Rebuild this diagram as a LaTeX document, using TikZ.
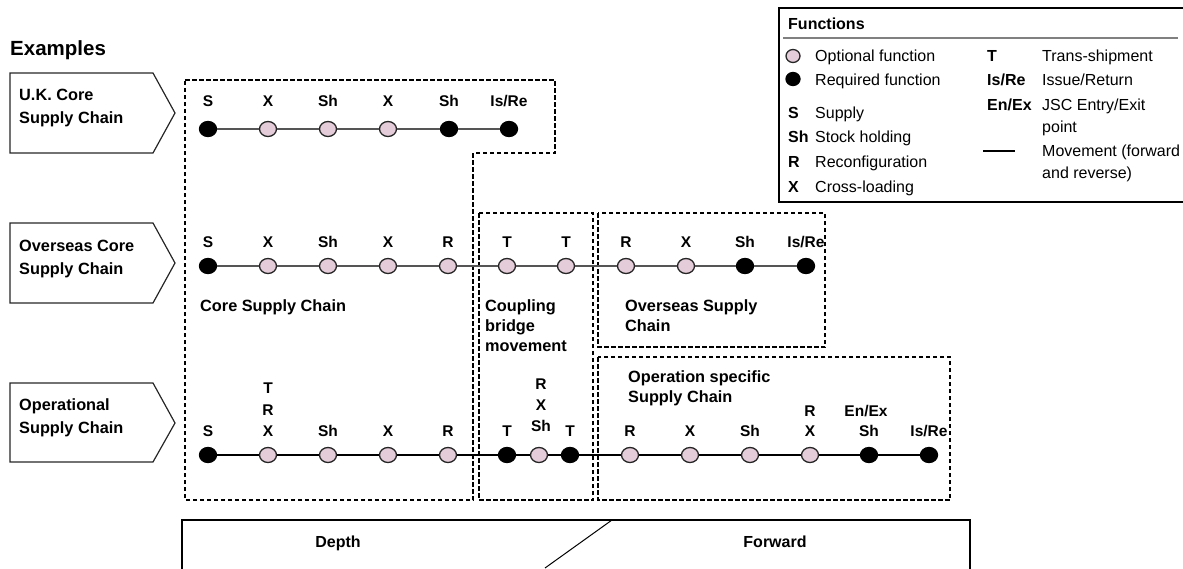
\documentclass[tikz,border=0pt]{standalone}
\usepackage{fontspec}
\setmainfont{Liberation Sans}
\usetikzlibrary{shapes.geometric}
\definecolor{optpink}{RGB}{228,204,216}
\definecolor{lgray}{RGB}{85,85,85}
\tikzset{
  opt/.style={ellipse,draw=black!85,line width=1.3pt,fill=optpink,minimum width=17pt,minimum height=15pt,inner sep=0pt},
  req/.style={ellipse,draw=black,line width=1.3pt,fill=black,minimum width=17pt,minimum height=15pt,inner sep=0pt},
  lbl/.style={font=\fontsize{15.5}{18}\selectfont\bfseries,anchor=base,inner sep=0pt},
  rtxt/.style={font=\fontsize{16.3}{20}\selectfont\bfseries,anchor=north west,inner sep=0pt,align=left},
  tabtxt/.style={font=\fontsize{16.3}{23}\selectfont\bfseries,anchor=north west,inner sep=0pt,align=left},
  ltxt/.style={font=\fontsize{16}{19}\selectfont,anchor=base west,inner sep=0pt},
  lkey/.style={font=\fontsize{16}{19}\selectfont\bfseries,anchor=base west,inner sep=0pt},
  zone/.style={draw=black,line width=2.1pt,dash pattern=on 4.5pt off 2.5pt},
  graylink/.style={draw=lgray,line width=1.8pt},
  blacklink/.style={draw=black,line width=2pt},
  tab/.style={draw=black!85,line width=1.2pt},
}
\begin{document}
\begin{tikzpicture}[x=1pt,y=-1pt]
\useasboundingbox (0,0) rectangle (1183,568);
% Title
\node[font=\fontsize{20.5}{24}\selectfont\bfseries,anchor=base west,inner sep=0pt] (examples) at (10,55) {Examples};
% Arrow tabs
\draw[tab] (10,73) -- (153,73) -- (175,113) -- (153,153) -- (10,153) -- cycle;
\node[tabtxt] (tabuk) at (19,88.5) {U.K. Core\\Supply Chain};
\draw[tab] (10,223) -- (153,223) -- (175,263) -- (153,303) -- (10,303) -- cycle;
\node[tabtxt] (tabos) at (19,239.5) {Overseas Core\\Supply Chain};
\draw[tab] (10,383) -- (153,383) -- (175,423) -- (153,462) -- (10,462) -- cycle;
\node[tabtxt] (tabop) at (19,398.5) {Operational\\Supply Chain};
% Dashed zones
\draw[zone] (185,80) -- (555,80) -- (555,153) -- (473,153) -- (473,500) -- (185,500) -- cycle;
\draw[zone] (479,213) rectangle (593,500);
\draw[zone] (598,213) rectangle (825,347);
\draw[zone] (598,357) rectangle (950,500);
\node[rtxt] (corelbl) at (200,299.5) {Core Supply Chain};
\node[rtxt] (couplbl) at (485,299.5) {Coupling\\bridge\\movement};
\node[rtxt] (oslbl) at (625,299.5) {Overseas Supply\\Chain};
\node[rtxt] (oplbl) at (628,370.5) {Operation specific\\Supply Chain};
% Row 1
\node[req] (a1) at (208,129) {};
\node[opt] (a2) at (268,129) {};
\node[opt] (a3) at (328,129) {};
\node[opt] (a4) at (388,129) {};
\node[req] (a5) at (449,129) {};
\node[req] (a6) at (509,129) {};
\draw[graylink] (a1) -- (a2) -- (a3) -- (a4) -- (a5) -- (a6);
\node[lbl] (a1t) at (208,106.5) {S};
\node[lbl] (a2t) at (268,106.5) {X};
\node[lbl] (a3t) at (328,106.5) {Sh};
\node[lbl] (a4t) at (388,106.5) {X};
\node[lbl] (a5t) at (449,106.5) {Sh};
\node[lbl] (a6t) at (509,106.5) {Is/Re};
% Row 2
\node[req] (b1) at (208,266) {};
\node[opt] (b2) at (268,266) {};
\node[opt] (b3) at (328,266) {};
\node[opt] (b4) at (388,266) {};
\node[opt] (b5) at (448,266) {};
\node[opt] (b6) at (507,266) {};
\node[opt] (b7) at (566,266) {};
\node[opt] (b8) at (626,266) {};
\node[opt] (b9) at (686,266) {};
\node[req] (b10) at (745,266) {};
\node[req] (b11) at (806,266) {};
\draw[graylink] (b1) -- (b2) -- (b3) -- (b4) -- (b5) -- (b6) -- (b7) -- (b8) -- (b9) -- (b10) -- (b11);
\node[lbl] (b1t) at (208,247.5) {S};
\node[lbl] (b2t) at (268,247.5) {X};
\node[lbl] (b3t) at (328,247.5) {Sh};
\node[lbl] (b4t) at (388,247.5) {X};
\node[lbl] (b5t) at (448,247.5) {R};
\node[lbl] (b6t) at (507,247.5) {T};
\node[lbl] (b7t) at (566,247.5) {T};
\node[lbl] (b8t) at (626,247.5) {R};
\node[lbl] (b9t) at (686,247.5) {X};
\node[lbl] (b10t) at (745,247.5) {Sh};
\node[lbl] (b11t) at (806,247.5) {Is/Re};
% Row 3
\node[req] (c1) at (208,455) {};
\node[opt] (c2) at (268,455) {};
\node[opt] (c3) at (328,455) {};
\node[opt] (c4) at (388,455) {};
\node[opt] (c5) at (448,455) {};
\node[req] (c6) at (507,455) {};
\node[opt] (c7) at (539,455) {};
\node[req] (c8) at (570,455) {};
\node[opt] (c9) at (630,455) {};
\node[opt] (c10) at (690,455) {};
\node[opt] (c11) at (750,455) {};
\node[opt] (c12) at (810,455) {};
\node[req] (c13) at (869,455) {};
\node[req] (c14) at (929,455) {};
\draw[blacklink] (c1) -- (c2) -- (c3) -- (c4) -- (c5) -- (c6) -- (c7) -- (c8) -- (c9) -- (c10) -- (c11) -- (c12) -- (c13) -- (c14);
\node[lbl] (c1t) at (208,436.5) {S};
\node[lbl] (c2t) at (268,436.5) {X};
\node[lbl] (c2r) at (268,415.5) {R};
\node[lbl] (c2u) at (268,393.5) {T};
\node[lbl] (c3t) at (328,436.5) {Sh};
\node[lbl] (c4t) at (388,436.5) {X};
\node[lbl] (c5t) at (448,436.5) {R};
\node[lbl] (c6t) at (507,436.5) {T};
\node[lbl] (c7t) at (541,431.5) {Sh};
\node[lbl] (c7x) at (541,410.5) {X};
\node[lbl] (c7r) at (541,389.5) {R};
\node[lbl] (c8t) at (570,436.5) {T};
\node[lbl] (c9t) at (630,436.5) {R};
\node[lbl] (c10t) at (690,436.5) {X};
\node[lbl] (c11t) at (750,436.5) {Sh};
\node[lbl] (c12t) at (810,436.5) {X};
\node[lbl] (c12r) at (810,416.5) {R};
\node[lbl] (c13t) at (869,436.5) {Sh};
\node[lbl] (c13e) at (866,416.5) {En/Ex};
\node[lbl] (c14t) at (929,436.5) {Is/Re};
% Bottom box
\coordinate (bl) at (182,575);
\coordinate (tl) at (182,520);
\coordinate (tr) at (970,520);
\coordinate (br) at (970,575);
\draw[line width=1.8pt] (bl) -- (tl) -- (tr) -- (br);
\coordinate (dtop) at (612,520);
\coordinate (dbot) at (545,568);
\draw[line width=1pt] (dtop) -- (dbot);
\node[font=\fontsize{16}{19}\selectfont\bfseries,inner sep=0pt,anchor=base] (depth) at (338,547) {Depth};
\node[font=\fontsize{16}{19}\selectfont\bfseries,inner sep=0pt,anchor=base] (fwd) at (775,547) {Forward};
% Legend
\draw[line width=1.8pt] (1195,8) -- (779,8) -- (779,202) -- (1195,202);
\node[lkey] (lgt) at (788,29) {Functions};
\draw[draw=gray,line width=1.5pt] (783,38) -- (1178,38);
\node[opt,minimum width=14pt,minimum height=13pt] (lgopt) at (793,56) {};
\node[req,minimum width=14pt,minimum height=13pt] (lgreq) at (793,79) {};
\node[ltxt] (lgopttx) at (815,61.7) {Optional function};
\node[ltxt] (lgreqtx) at (815,85.7) {Required function};
\node[lkey] (ks) at (788,118.7) {S};
\node[ltxt] (ksx) at (815,118.7) {Supply};
\node[lkey] (ksh) at (788,142.7) {Sh};
\node[ltxt] (kshx) at (815,142.7) {Stock holding};
\node[lkey] (kr) at (788,167.7) {R};
\node[ltxt] (krx) at (815,167.7) {Reconfiguration};
\node[lkey] (kx) at (788,192.7) {X};
\node[ltxt] (kxx) at (815,192.7) {Cross-loading};
\node[lkey] (kt) at (987,61.7) {T};
\node[ltxt] (ktx) at (1042,61.7) {Trans-shipment};
\node[lkey] (kis) at (987,85.7) {Is/Re};
\node[ltxt] (kisx) at (1042,85.7) {Issue/Return};
\node[lkey] (ken) at (987,110.7) {En/Ex};
\node[ltxt] (kenx) at (1042,110.7) {JSC Entry/Exit};
\node[ltxt] (kenx2) at (1042,132.7) {point};
\coordinate (mvA) at (983,151);
\coordinate (mvB) at (1015,151);
\draw[line width=2pt] (mvA) -- (mvB);
\node[ltxt] (kmv) at (1042,156.7) {Movement (forward};
\node[ltxt] (kmv2) at (1042,178.7) {and reverse)};
\end{tikzpicture}
\end{document}
